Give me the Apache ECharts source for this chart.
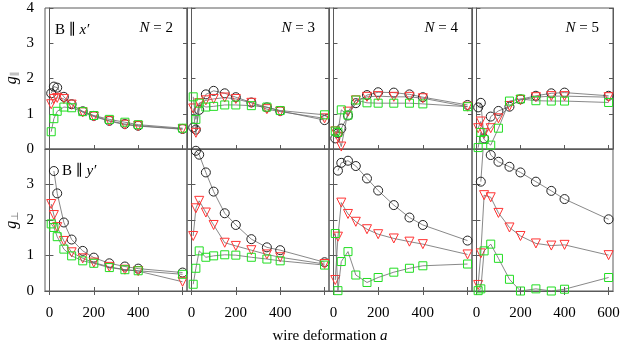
<!DOCTYPE html>
<html>
<head>
<meta charset="utf-8">
<script src="https://cdn.jsdelivr.net/npm/echarts@6/dist/echarts.min.js"></script>
<style>
  html, body { margin: 0; padding: 0; background: #fff; }
  #chart { width: 623px; height: 358px; }
</style>
</head>
<body>
<div id="chart"></div>
<script>
// wire deformation a (shared x positions of the measured points)
var wireA = [8, 20, 35, 65, 100, 150, 200, 270, 340, 400, 600];

// g parallel (B || x')
var gParCircN2 = [1.58, 1.77, 1.74, 1.48, 1.27, 1.07, 0.94, 0.80, 0.71, 0.66, 0.57];
var gParTriN2  = [1.27, 1.42, 1.45, 1.42, 1.26, 1.04, 0.92, 0.79, 0.69, 0.65, 0.56];
var gParSqN2   = [0.49, 0.86, 1.07, 1.19, 1.17, 1.06, 0.95, 0.84, 0.76, 0.69, 0.59];

var gParCircN3 = [0.61, 0.55, 1.11, 1.55, 1.65, 1.58, 1.47, 1.32, 1.18, 1.08, 0.82];
var gParTriN3  = [1.15, 0.46, 1.30, 1.38, 1.42, 1.46, 1.42, 1.31, 1.13, 1.06, 0.87];
var gParSqN3   = [1.48, 0.84, 1.30, 1.19, 1.21, 1.25, 1.25, 1.23, 1.19, 1.09, 0.97];

var gParCircN4 = [0.30, 0.45, 0.58, 0.95, 1.30, 1.53, 1.61, 1.60, 1.55, 1.47, 1.25];
var gParTriN4  = [0.50, 0.35, 0.07, 1.06, 1.38, 1.48, 1.50, 1.48, 1.48, 1.44, 1.20];
var gParSqN4   = [0.51, 0.47, 1.11, 0.96, 1.39, 1.31, 1.30, 1.30, 1.30, 1.28, 1.20];

var gParCircN5 = [1.18, 1.31, 0.30, 0.92, 1.08, 1.20, 1.41, 1.51, 1.58, 1.60, 1.51];
var gParTriN5  = [0.59, 0.78, 0.45, 0.59, 0.87, 1.22, 1.39, 1.47, 1.50, 1.50, 1.47];
var gParSqN5   = [0.04, 0.47, 0.27, 0.11, 0.59, 1.36, 1.42, 1.37, 1.36, 1.36, 1.32];

// g perpendicular (B || y')
var gPerpCircN2 = [null, 3.38, 2.75, 1.93, 1.45, 1.13, 0.94, 0.78, 0.69, 0.63, 0.52];
var gPerpTriN2  = [2.45, 2.14, 1.80, 1.41, 1.09, 0.92, 0.80, 0.68, 0.60, 0.56, 0.26];
var gPerpSqN2   = [1.89, 1.79, 1.53, 1.18, 0.99, 0.85, 0.78, 0.66, 0.60, 0.57, 0.47];

var gPerpCircN3 = [null, 3.95, 3.84, 3.34, 2.80, 2.19, 1.86, 1.46, 1.23, 1.15, 0.81];
var gPerpTriN3  = [1.55, 2.33, 2.54, 2.21, 1.86, 1.36, 1.27, 1.15, 1.03, 0.95, 0.76];
var gPerpSqN3   = [0.19, 0.64, 1.13, 0.95, 0.99, 1.02, 1.01, 0.95, 0.90, 0.85, 0.73];

var gPerpCircN4 = [null, 3.39, 3.61, 3.67, 3.52, 3.17, 2.83, 2.42, 2.07, 1.86, 1.42];
var gPerpTriN4  = [0.31, 1.53, 2.49, 2.17, 1.95, 1.74, 1.60, 1.48, 1.39, 1.32, 1.03];
var gPerpSqN4   = [1.62, 0.01, 0.83, 1.11, 0.45, 0.24, 0.38, 0.53, 0.64, 0.71, 0.76];

var gPerpCircN5 = [null, 3.08, 4.40, 3.83, 3.64, 3.50, 3.34, 3.08, 2.82, 2.59, 2.02];
var gPerpTriN5  = [0.17, 1.06, 2.70, 2.64, 2.20, 1.79, 1.55, 1.34, 1.28, 1.30, 1.01];
var gPerpSqN5   = [0.01, 0.06, 1.13, 1.32, 0.92, 0.33, 0.00, 0.06, 0.00, 0.05, 0.38];

var panelN = [2, 3, 4, 5];
var xTicks = [0, 200, 400, 600];
var yTicksPar = [0, 1, 2, 3, 4];
var yTicksPerp = [0, 1, 2, 3];

var parData = [
    [gParCircN2, gParTriN2, gParSqN2],
    [gParCircN3, gParTriN3, gParSqN3],
    [gParCircN4, gParTriN4, gParSqN4],
    [gParCircN5, gParTriN5, gParSqN5]
];
var perpData = [
    [gPerpCircN2, gPerpTriN2, gPerpSqN2],
    [gPerpCircN3, gPerpTriN3, gPerpSqN3],
    [gPerpCircN4, gPerpTriN4, gPerpSqN4],
    [gPerpCircN5, gPerpTriN5, gPerpSqN5]
];

var serif = "'Liberation Serif', 'DejaVu Serif', serif";
var frameColor = '#5a5a5a';
var colLeft = [45, 187, 329, 472];
var colWidth = [142, 142, 143, 141];

// marker styles: circle, down triangle, square
var markers = [
    { symbol: 'circle', rotate: 0, size: 9, color: '#222' },
    { symbol: 'triangle', rotate: 180, size: 9, color: '#ff3333' },
    { symbol: 'rect', rotate: 0, size: 8, color: '#22dd22' }
];

var grids = [], xAxes = [], yAxes = [], series = [];

function pairs(ys) {
    var out = [];
    ys.forEach(function (v, i) {
        if (v !== null) out.push([wireA[i], v]);
    });
    return out;
}

function addPanel(row, col, data) {
    var g = grids.length;
    grids.push({
        left: colLeft[col],
        width: colWidth[col],
        top: row === 0 ? 8 : 149,
        height: row === 0 ? 141 : 142,
        show: true,
        borderColor: frameColor,
        borderWidth: 1,
        backgroundColor: 'transparent'
    });
    var tickStyle = { show: true, inside: true, length: 4, lineStyle: { color: frameColor } };
    var xi = xAxes.length;
    xAxes.push({
        gridIndex: g, type: 'value', min: -20, max: 620, position: 'bottom',
        axisLine: { show: true, lineStyle: { color: frameColor } },
        axisTick: Object.assign({ customValues: xTicks }, tickStyle),
        axisLabel: {
            show: row === 1,
            customValues: col === 3 ? xTicks : [0, 200, 400],
            fontFamily: serif, fontSize: 15, color: '#000', margin: 15
        },
        splitLine: { show: false }
    });
    if (row === 1) {
        xAxes.push({
            gridIndex: g, type: 'value', min: -20, max: 620, position: 'top',
            axisLine: { show: true, lineStyle: { color: frameColor } },
            axisTick: Object.assign({ customValues: xTicks }, tickStyle),
            axisLabel: { show: false },
            splitLine: { show: false }
        });
    }
    var yi = yAxes.length;
    yAxes.push({
        gridIndex: g, type: 'value', min: 0, max: 4, interval: 1, position: 'left',
        axisLine: { show: true, lineStyle: { color: frameColor } },
        axisTick: Object.assign({}, tickStyle),
        axisLabel: {
            show: col === 0,
            fontFamily: serif, fontSize: 15, color: '#000', margin: 11,
            customValues: row === 0 ? yTicksPar : yTicksPerp
        },
        splitLine: { show: false }
    });
    yAxes.push({
        gridIndex: g, type: 'value', min: 0, max: 4, interval: 1, position: 'right',
        axisLine: { show: true, lineStyle: { color: frameColor } },
        axisTick: Object.assign({}, tickStyle),
        axisLabel: { show: false },
        splitLine: { show: false }
    });
    data.forEach(function (ys, k) {
        var m = markers[k];
        series.push({
            type: 'line',
            xAxisIndex: xi,
            yAxisIndex: yi,
            data: pairs(ys),
            symbol: m.symbol,
            symbolRotate: m.rotate,
            symbolSize: m.size,
            showAllSymbol: true,
            clip: true,
            lineStyle: { color: '#6a6a6a', width: 0.8 },
            itemStyle: { color: 'rgba(255,255,255,0)', borderColor: m.color, borderWidth: 1 },
            emphasis: { disabled: true },
            animation: false,
            z: 2 + k
        });
    });
}

for (var c = 0; c < 4; c++) {
    addPanel(0, c, parData[c]);
}
for (var c2 = 0; c2 < 4; c2++) {
    addPanel(1, c2, perpData[c2]);
}

var textBase = { fontFamily: serif, fontSize: 15, fill: '#000' };
var graphics = [];
panelN.forEach(function (n, i) {
    graphics.push({
        type: 'text',
        x: colLeft[i] + colWidth[i] - 14,
        y: 28,
        style: Object.assign({
            text: '{i|N} = ' + n,
            align: 'right', verticalAlign: 'middle',
            rich: { i: { fontStyle: 'italic', fontFamily: serif, fontSize: 15 } }
        }, textBase)
    });
});
graphics.push({
    type: 'text', x: 55, y: 30,
    style: Object.assign({
        text: 'B ∥ {i|x′}', verticalAlign: 'middle',
        rich: { i: { fontStyle: 'italic', fontFamily: serif, fontSize: 15 } }
    }, textBase)
});
graphics.push({
    type: 'text', x: 62, y: 171,
    style: Object.assign({
        text: 'B ∥ {i|y′}', verticalAlign: 'middle',
        rich: { i: { fontStyle: 'italic', fontFamily: serif, fontSize: 15 } }
    }, textBase)
});
graphics.push({
    type: 'text', x: 12, y: 78, rotation: Math.PI / 2,
    style: Object.assign({
        text: '{i|g}{s|∥}', align: 'center', verticalAlign: 'middle',
        rich: {
            i: { fontStyle: 'italic', fontFamily: serif, fontSize: 16 },
            s: { fontFamily: serif, fontSize: 10, padding: [6, 0, 0, 0], fill: '#888' }
        }
    }, textBase)
});
graphics.push({
    type: 'text', x: 12, y: 220, rotation: Math.PI / 2,
    style: Object.assign({
        text: '{i|g}{s|⊥}', align: 'center', verticalAlign: 'middle',
        rich: {
            i: { fontStyle: 'italic', fontFamily: serif, fontSize: 16 },
            s: { fontFamily: serif, fontSize: 10, padding: [6, 0, 0, 0], fill: '#888' }
        }
    }, textBase)
});
graphics.push({
    type: 'text', x: 330, y: 336,
    style: Object.assign({
        text: 'wire deformation {i|a}', align: 'center', verticalAlign: 'middle',
        rich: { i: { fontStyle: 'italic', fontFamily: serif, fontSize: 15 } }
    }, textBase)
});

var myChart = echarts.init(document.getElementById('chart'), null, { renderer: 'canvas' });
var option = {
    animation: false,
    backgroundColor: '#fff',
    grid: grids,
    xAxis: xAxes,
    yAxis: yAxes,
    series: series,
    graphic: graphics
};
myChart.setOption(option);
</script>
</body>
</html>
